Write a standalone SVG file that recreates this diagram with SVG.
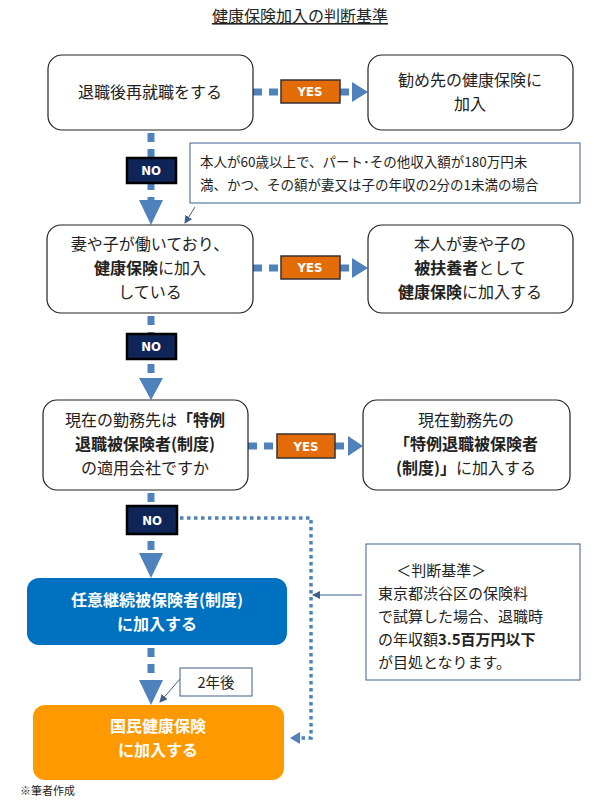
<svg xmlns="http://www.w3.org/2000/svg" width="601" height="804" viewBox="0 0 601 804">
<style>
text{font-family:"Noto Sans CJK JP","Liberation Sans",sans-serif;fill:#222}
.box{fill:#fff;stroke:#222;stroke-width:1.2}
.note{fill:#fff;stroke:#3F5F8F;stroke-width:1}
.t{font-size:16px;text-anchor:middle}
.b{font-weight:bold}
.yes{fill:#E36C09;stroke:#333;stroke-width:1.5}
.no{fill:#0F2557;stroke:#000;stroke-width:2.5}
.lbl{font-family:"DejaVu Sans Condensed","Liberation Sans",sans-serif;font-weight:bold;font-size:13px;fill:#fff;text-anchor:middle}
.dash{stroke:#4F81BD;stroke-width:7;stroke-dasharray:9 7;fill:none}
.dot{stroke:#4F81BD;stroke-width:3.5;stroke-dasharray:3.5 3.5;fill:none}
.head{fill:#4F81BD}
.thin{stroke:#3F5F8F;stroke-width:1;fill:none}
</style>
<defs><marker id="a" markerWidth="8" markerHeight="8" refX="7" refY="4" orient="auto" markerUnits="userSpaceOnUse"><path d="M0,0 L8,4 L0,8 z" fill="#3F5F8F"/></marker></defs>
<text x="300" y="22" class="t" text-decoration="underline">健康保険加入の判断基準</text>
<g id="connectors">
<path class="dash" d="M151,133 V200 M151,316 V378 M151,493 V553 M151,648 V680 M253,92 H281 M340,92 H354 M253,268 H281 M340,268 H354 M248,446 H277 M335,446 H350"/>
<polygon class="head" points="139,200 163,200 151,225"/>
<polygon class="head" points="139,378 163,378 151,400"/>
<polygon class="head" points="139,553 163,553 151,578"/>
<polygon class="head" points="139,680 163,680 151,705"/>
<polygon class="head" points="352,82 368,92 352,102"/>
<polygon class="head" points="352,258 368,268 352,278"/>
<polygon class="head" points="348,436 363,446 348,456"/>
<path class="dot" d="M180,518 H311 V738 H300"/>
<polygon class="head" points="300,732 290,738 300,744"/>
<path class="thin" d="M195,207 L185,223" marker-end="url(#a)"/>
<path class="thin" d="M362,595 L313,595" marker-end="url(#a)"/>
<path class="thin" d="M180,679 L160,702" marker-end="url(#a)"/>
</g>
<g id="n1"><rect class="box" x="48" y="55" width="205" height="75" rx="14"/><text class="t" x="150" y="98">退職後再就職をする</text></g>
<g id="yes1"><rect class="yes" x="281" y="80" width="59" height="23"/><text class="lbl" x="310" y="96">YES</text></g>
<g id="r1"><rect class="box" x="368" y="55" width="205" height="75" rx="14"/><text class="t" x="470" y="86">勧め先の健康保険に</text><text class="t" x="470" y="110">加入</text></g>
<g id="no1"><rect class="no" x="127" y="158" width="49" height="25"/><text class="lbl" x="151" y="175">NO</text></g>
<g id="note1"><rect class="note" x="190" y="143" width="390" height="60"/><text x="200" y="167" style="font-size:13.5px">本人が60歳以上で、パート･その他収入額が180万円未</text><text x="200" y="190" style="font-size:13.5px">満、かつ、その額が妻又は子の年収の2分の1未満の場合</text></g>
<g id="n2"><rect class="box" x="47" y="225" width="206" height="88" rx="14"/><text class="t" x="150" y="250">妻や子が働いており、</text><text class="t" x="150" y="274"><tspan class="b">健康保険</tspan>に加入</text><text class="t" x="150" y="298">している</text></g>
<g id="yes2"><rect class="yes" x="281" y="256" width="59" height="23"/><text class="lbl" x="310" y="272">YES</text></g>
<g id="r2"><rect class="box" x="368" y="225" width="205" height="88" rx="14"/><text class="t" x="470" y="250">本人が妻や子の</text><text class="t" x="470" y="274"><tspan class="b">被扶養者</tspan>として</text><text class="t" x="470" y="298"><tspan class="b">健康保険</tspan>に加入する</text></g>
<g id="no2"><rect class="no" x="127" y="334" width="49" height="25"/><text class="lbl" x="151" y="351">NO</text></g>
<g id="n3"><rect class="box" x="43" y="400" width="205" height="90" rx="14"/><text class="t" x="145" y="426">現在の勤務先は<tspan class="b">「特例</tspan></text><text class="t b" x="145" y="450">退職被保険者(制度)</text><text class="t" x="145" y="474">の適用会社ですか</text></g>
<g id="yes3"><rect class="yes" x="277" y="434" width="58" height="24"/><text class="lbl" x="306" y="451">YES</text></g>
<g id="r3"><rect class="box" x="363" y="400" width="207" height="90" rx="14"/><text class="t" x="466" y="426">現在勤務先の</text><text class="t b" x="466" y="450">「特例退職被保険者</text><text class="t" x="466" y="474"><tspan class="b">(制度)」</tspan>に加入する</text></g>
<g id="no3"><rect class="no" x="127" y="506" width="50" height="28"/><text class="lbl" x="152" y="525">NO</text></g>
<g id="n4"><rect x="27" y="578" width="260" height="67" rx="12" fill="#0070C0"/><text class="t b" x="157" y="606" style="fill:#fff">任意継続被保険者(制度)</text><text class="t b" x="157" y="630" style="fill:#fff">に加入する</text></g>
<g id="lbl2y"><rect class="note" x="180" y="668" width="72" height="28"/><text class="t" x="216" y="688" style="font-size:14.5px">2年後</text></g>
<g id="n5"><rect x="33" y="705" width="251" height="75" rx="12" fill="#FF9900"/><text class="t b" x="158" y="732" style="fill:#fff">国民健康保険</text><text class="t b" x="158" y="756" style="fill:#fff">に加入する</text></g>
<g id="crit"><rect class="note" x="366" y="544" width="214" height="136"/><text x="378" y="576" style="font-size:15px">　  ＜判断基準＞</text><text x="378" y="599" style="font-size:15px">東京都渋谷区の保険料</text><text x="378" y="622" style="font-size:15px">で試算した場合、退職時</text><text x="378" y="645" style="font-size:15px">の年収額<tspan class="b">3.5百万円以下</tspan></text><text x="378" y="668" style="font-size:15px">が目処となります。</text></g>
<text x="20" y="795" style="font-size:11px">※筆者作成</text>
</svg>
